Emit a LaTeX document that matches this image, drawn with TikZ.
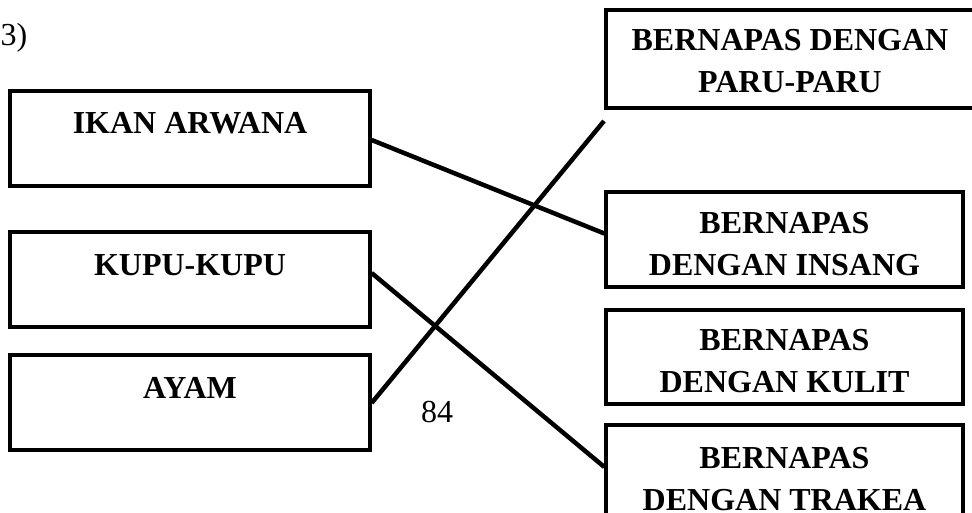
\documentclass[tikz,border=0pt]{standalone}
\usepackage{fontspec}
\setmainfont{Liberation Serif}
\begin{document}
\begin{tikzpicture}[x=1pt,y=-1pt,
  box/.style={draw=black,line width=3.3pt,rectangle,inner sep=0pt},
  lbl/.style={font=\fontsize{32}{42}\selectfont\bfseries,align=center,inner sep=0pt},
  plain/.style={font=\fontsize{32}{38}\selectfont,inner sep=0pt},
  link/.style={line width=4.5pt,black}]
\useasboundingbox (0,0) rectangle (972,513);
\clip (0,0) rectangle (972,513);
% left boxes
\node[box,minimum width=360pt,minimum height=95pt] (ikan) at (190,138.5) {};
\node[box,minimum width=360pt,minimum height=95pt] (kupu) at (190,279.5) {};
\node[box,minimum width=360pt,minimum height=95pt] (ayam) at (190,402.5) {};
\node[lbl] (tikan) at (190,123) {IKAN ARWANA};
\node[lbl] (tkupu) at (190,265) {KUPU-KUPU};
\node[lbl] (tayam) at (190,388) {AYAM};
% right boxes
\node[box,minimum width=368pt,minimum height=98pt] (paru) at (790,59) {};
\node[box,minimum width=357pt,minimum height=95pt] (insang) at (784.5,239.5) {};
\node[box,minimum width=357pt,minimum height=94pt] (kulit) at (784.5,357) {};
\node[box,minimum width=357pt,minimum height=100pt] (trakea) at (784.5,475) {};
\node[lbl] (tparu) at (790,61) {BERNAPAS DENGAN\\PARU-PARU};
\node[lbl] (tinsang) at (784.5,244) {BERNAPAS\\DENGAN INSANG};
\node[lbl] (tkulit) at (784.5,361) {BERNAPAS\\DENGAN KULIT};
\node[lbl] (ttrakea) at (784.5,479) {BERNAPAS\\DENGAN TRAKEA};
% other texts
\node[plain] (num) at (14,38) {3)};
\node[plain] (page) at (437,412) {84};
% connectors
\coordinate (pend) at (604,121);
\draw[link] ([yshift=-1.5pt]ikan.east) -- ([yshift=6pt]insang.west);
\draw[link] ([yshift=6.5pt]kupu.east) -- ([yshift=8pt]trakea.west);
\draw[link] ([yshift=-0.5pt]ayam.east) -- (pend);
\end{tikzpicture}
\end{document}
